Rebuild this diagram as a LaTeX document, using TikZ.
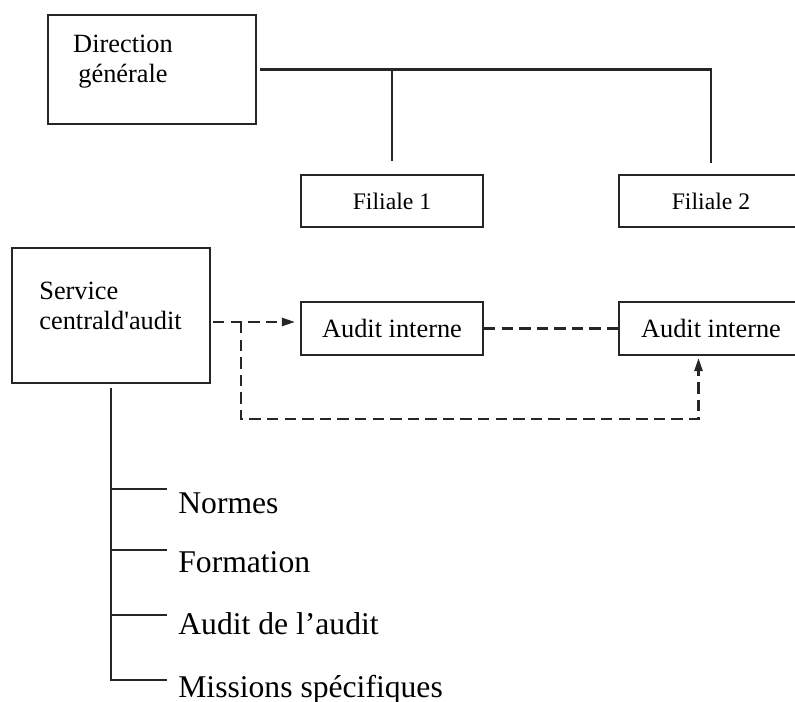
\documentclass[tikz,border=0pt]{standalone}
\usepackage{fontspec}
\setmainfont{Liberation Serif}
\usetikzlibrary{arrows.meta,positioning,calc}

\begin{document}
\begin{tikzpicture}[
    >={Triangle[length=0.26cm,width=0.16cm]},
    orgbox/.style={draw=black!85, line width=1.2pt, inner sep=0pt},
    boxtext/.style={font=\fontsize{15}{17}\selectfont, inner sep=0pt},
    filtext/.style={font=\fontsize{13.5}{16}\selectfont},
    itemtext/.style={font=\fontsize{18}{21}\selectfont, inner sep=0pt, anchor=base west},
    link/.style={draw=black!85, line width=1.4pt},
    dashlink/.style={draw=black!85, line width=1.4pt, dash pattern=on 6.5pt off 3.5pt}
]
\useasboundingbox (0,0) rectangle (15.9,-14.04);

\node[orgbox, minimum width=4.16cm, minimum height=2.18cm] (dg) at (3.04,-1.39) {};
\node[boxtext, align=center, anchor=north] (dgtext) at (2.46,-0.70) {Direction\\générale};
\node[orgbox, boxtext, filtext, minimum width=3.64cm, minimum height=1.04cm] (f1) at (7.84,-4.02) {Filiale 1};
\node[orgbox, boxtext, filtext, minimum width=3.68cm, minimum height=1.04cm] (f2) at (14.22,-4.02) {Filiale 2};
\draw[link, shorten <=0.06cm, shorten >=0.22cm] (dg.east) -| (f2.north);
\draw[link, shorten >=0.26cm] (f1.north |- dg.east) -- (f1.north);

\node[orgbox, minimum width=3.96cm, minimum height=2.70cm] (svc) at (2.22,-6.31) {};
\node[boxtext, align=left, anchor=north west] (svctext) at (0.78,-5.63) {Service\\centrald\textquotesingle audit};
\node[orgbox, boxtext, minimum width=3.64cm, minimum height=1.06cm] (a1) at (7.84,-6.57) {Audit interne};
\node[orgbox, boxtext, minimum width=3.68cm, minimum height=1.06cm] (a2) at (14.22,-6.57) {Audit interne};

\coordinate (jn) at ($(svc.east)+(0.60,-0.13)$);
\coordinate (loop) at ($(jn)+(0,-1.94)$);
\draw[dashlink, ->, shorten <=0.04cm, shorten >=0.1cm] ([yshift=-0.13cm]svc.east) -- ([yshift=-0.13cm]svc.east -| a1.west);
\draw[dashlink] (a1.east) -- (a2.west);
\draw[dashlink, ->, shorten >=0.04cm] (jn) -- (loop) -| ([xshift=-0.25cm]a2.south);

\foreach \nm/\ty/\by/\txt in {n1/-9.78/-10.28/Normes, n2/-11.00/-11.46/Formation,
    n3/-12.30/-12.70/{Audit de l’audit}, n4/-13.60/-13.94/{Missions spécifiques}} {
  \node[itemtext] (\nm) at (3.56,\by) {\txt};
  \coordinate (t\nm) at (3.34,\ty);
}
\draw[link, shorten <=0.08cm] (svc.south) |- (tn4);
\foreach \nm in {n1,n2,n3}
  \draw[link] (svc.south |- t\nm) -- (t\nm);
\end{tikzpicture}
\end{document}
